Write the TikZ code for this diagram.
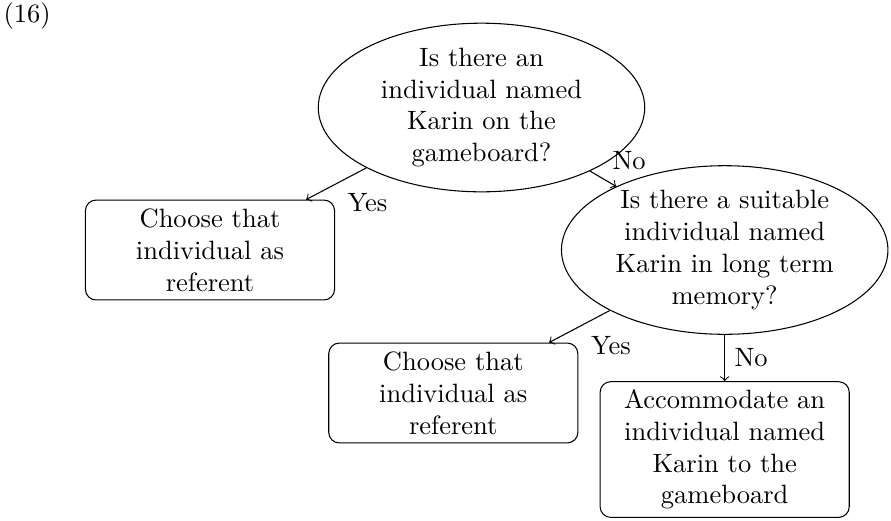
\documentclass[tikz,border=0pt]{standalone}
\usetikzlibrary{shapes.geometric}
\begin{document}
\begin{tikzpicture}[x=0.37736pt, y=-0.37736pt,
  question/.style={draw, ellipse, align=center, inner sep=0pt,
    minimum width=123.2pt, minimum height=63.6pt},
  action/.style={draw, rectangle, rounded corners, align=center, inner sep=0pt,
    minimum width=94pt},
  label/.style={inner sep=0pt, anchor=base west},
  flow/.style={->}]
  \useasboundingbox (0,0) rectangle (891,520);

  % example number
  \node[label] (num) at (3,22) {(16)};

  % decision steps
  \node[question] (q1) at (481.5,107.5) {Is there an\\individual named\\Karin on the\\gameboard?};
  \node[question] (q2) at (724.7,250) {Is there a suitable\\individual named\\Karin in long term\\memory?};

  % outcomes
  \node[action, minimum height=37.7pt] (a1) at (210,250) {Choose that\\individual as\\referent};
  \node[action, minimum height=37.7pt] (a2) at (453.3,393) {Choose that\\individual as\\referent};
  \node[action, minimum height=51.2pt] (a3) at (724.7,449.5) {Accommodate an\\individual named\\Karin to the\\gameboard};

  % connectors
  \draw[flow] (q1) -- (a1);
  \draw[flow] (q1) -- (q2);
  \draw[flow] (q2) -- (a2);
  \draw[flow] (q2) -- (a3);

  % answers
  \node[label] (y1) at (347,211.5) {Yes};
  \node[label] (n1) at (612,169.5) {No};
  \node[label] (y2) at (590.5,354) {Yes};
  \node[label] (n2) at (734,366.5) {No};
\end{tikzpicture}
\end{document}
